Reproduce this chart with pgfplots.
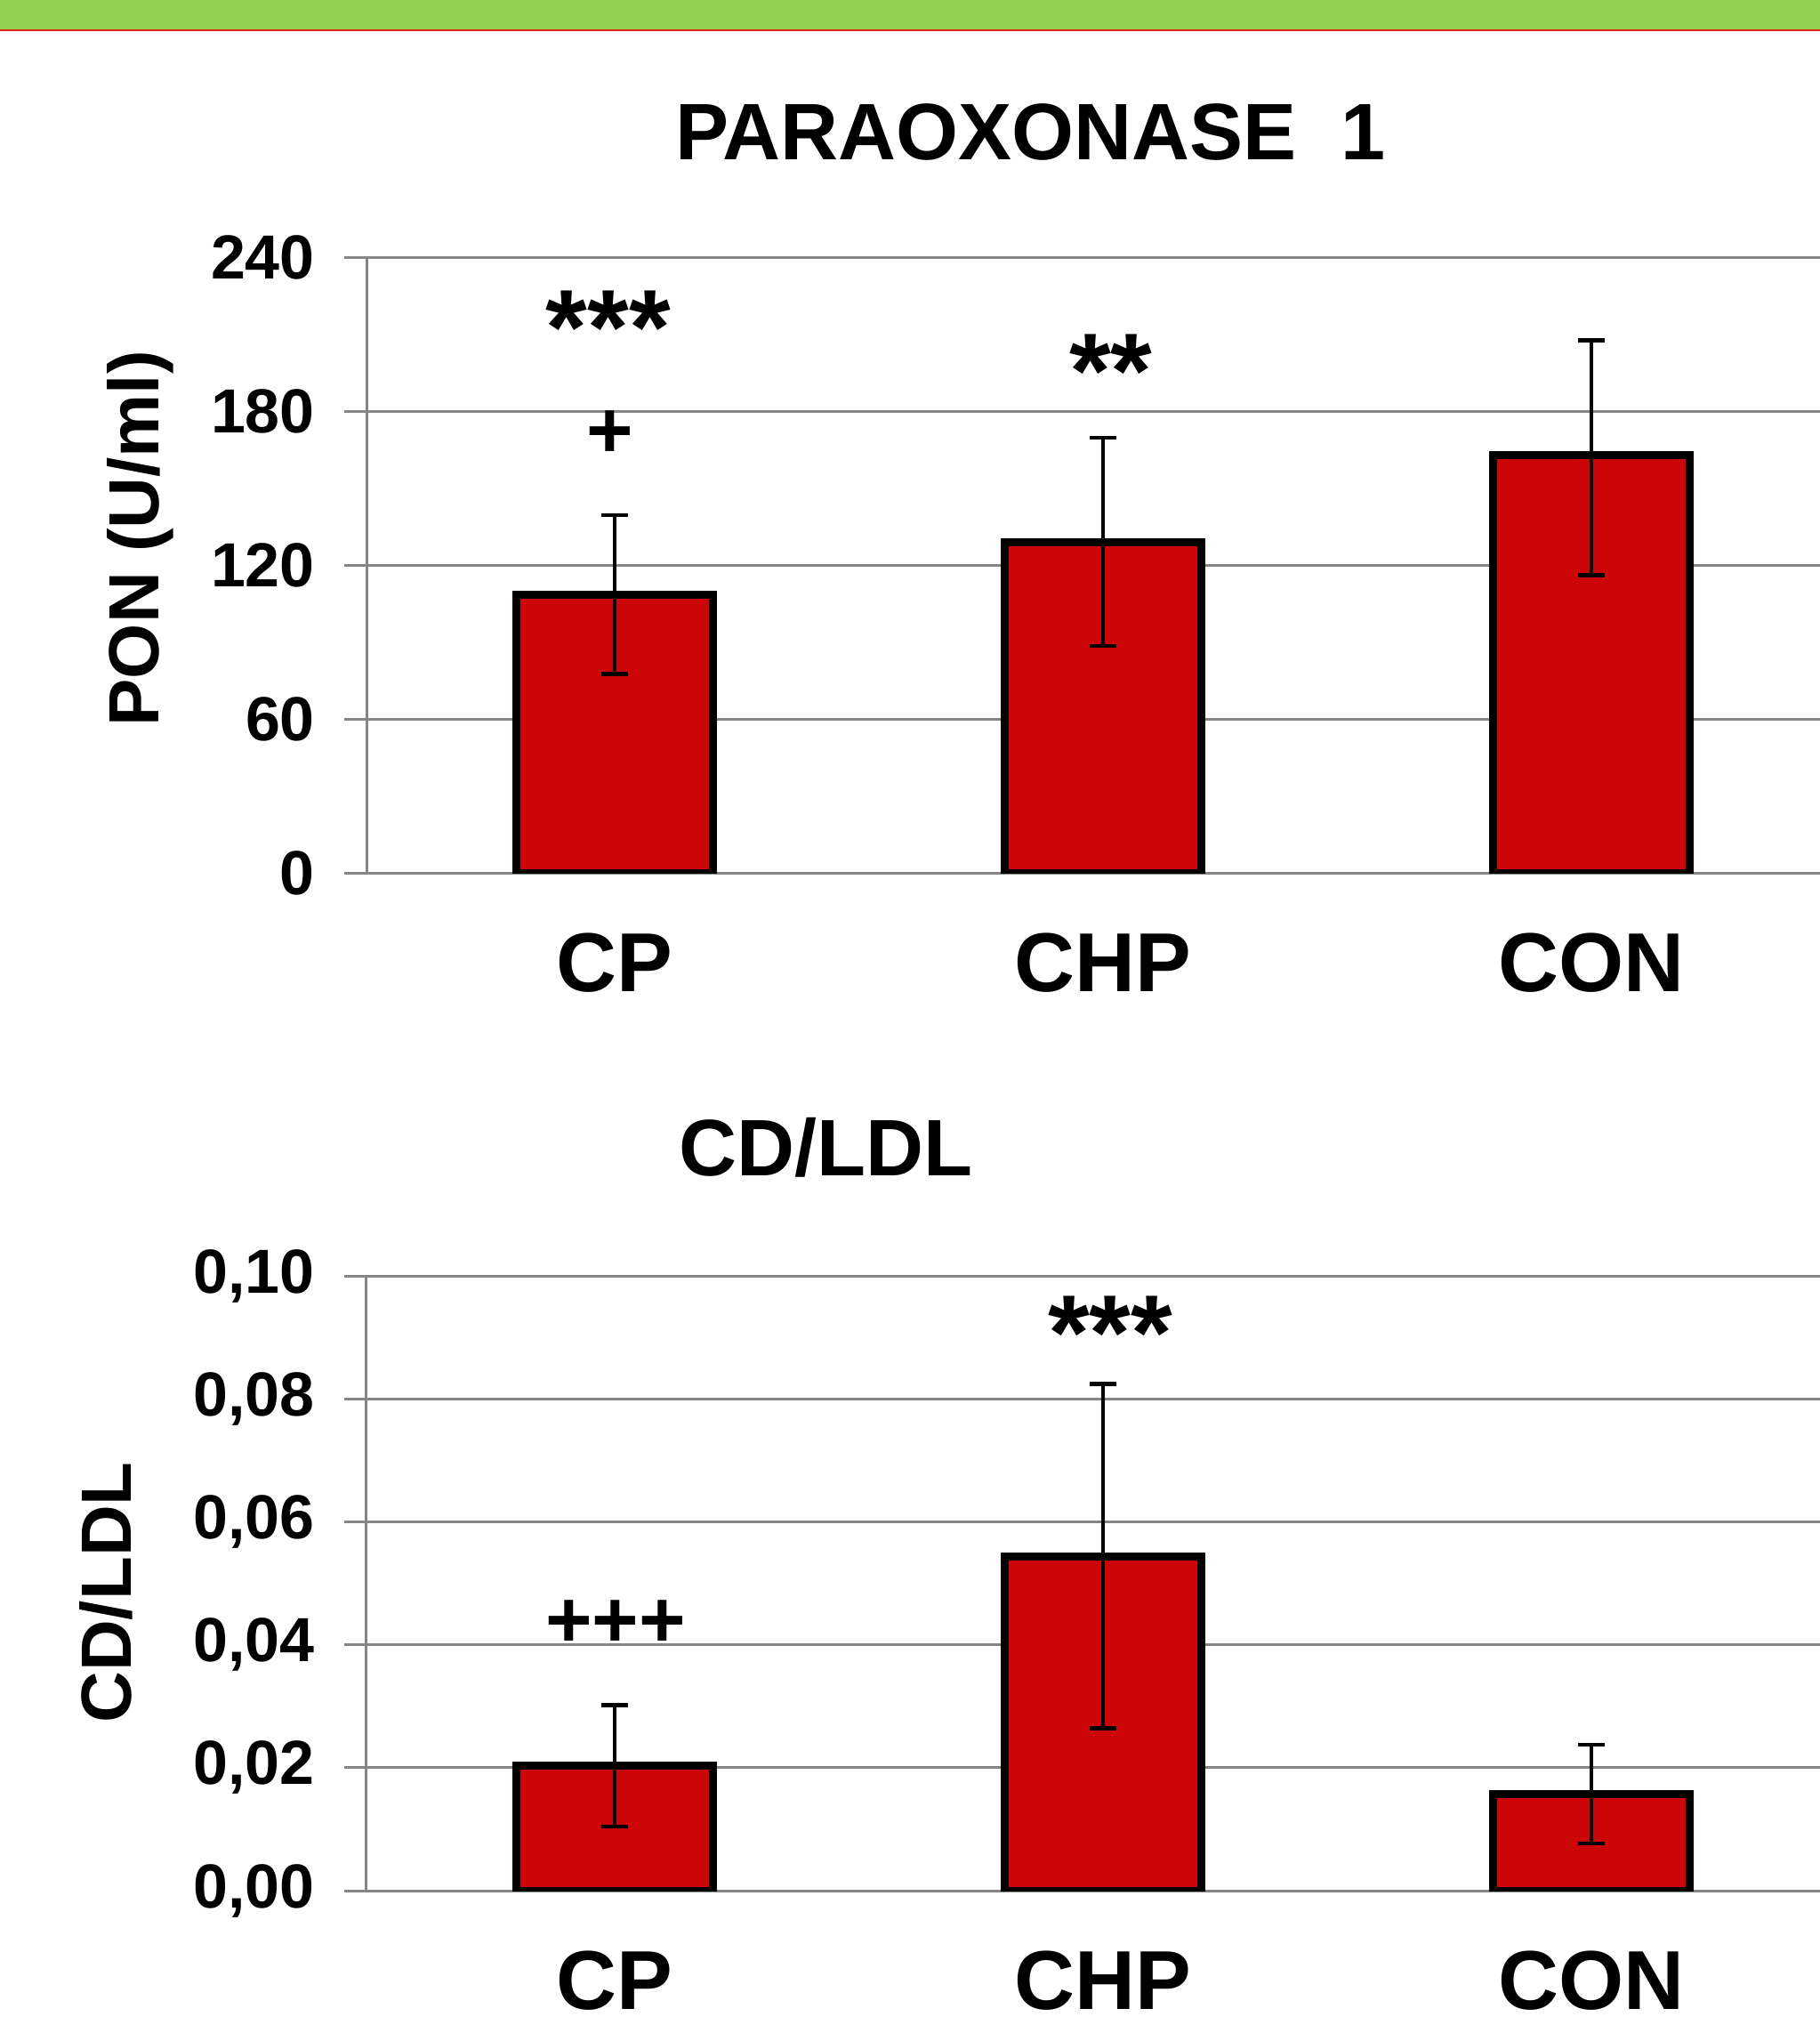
\documentclass[border=0pt]{standalone}
\usepackage{pgfplots}
\pgfplotsset{compat=1.18}
\usepackage{fontspec}
\setmainfont{Liberation Sans}
\definecolor{barred}{RGB}{204,6,6}
\definecolor{gridgray}{RGB}{134,134,134}
\definecolor{bandgreen}{RGB}{146,208,80}
\definecolor{bandred}{RGB}{225,35,25}
\newcommand\starfont{\fontsize{30}{34}\selectfont\bfseries}
\newcommand\plusfont{\fontsize{22.5}{27}\selectfont\bfseries}
\pgfplotsset{
  mybars/.style={
    scale only axis, width=408.5pt,
    xmin=-0.508, xmax=2.468,
    axis lines=left, axis line style={-, gridgray, line width=0.75pt},
    ymajorgrids, major grid style={gridgray, line width=0.75pt},
    tick align=outside, major tick length=6.25pt,
    ytick style={gridgray, line width=0.75pt}, xtick style={draw=none},
    xtick={0,1,2}, xticklabels={CP,CHP,CON},
    xticklabel style={anchor=base, yshift=-27pt, font=\fontsize{23.5}{28}\selectfont\bfseries},
    yticklabel style={xshift=-4.75pt, font=\fontsize{17.5}{21}\selectfont\bfseries},
    /pgf/number format/assume math mode=true,
    ybar, bar width=0.403, bar shift=0pt,
    every axis y label/.style={rotate=90, anchor=base, font=\fontsize{20}{24}\selectfont\bfseries},
    title style={anchor=base, yshift=0pt, font=\fontsize{22.5}{27}\selectfont\bfseries},
  },
  mybarplot/.style={
    fill=barred, draw=black, line width=2.25pt,
    error bars/.cd, y dir=both, y explicit,
    error bar style={line width=1.1pt, black},
    error mark options={rotate=90, line width=1.1pt, mark size=3.75pt, black},
  },
}
\begin{document}
\begin{tikzpicture}
\useasboundingbox (0,0) rectangle (511.5pt,-573.5pt);
\fill[bandgreen] (0,0) rectangle (511.5pt,-8.3pt);
\fill[bandred] (0,-8.3pt) rectangle (511.5pt,-8.85pt);

\begin{axis}[mybars,
  at={(103pt,-245.25pt)}, anchor=south west, height=173pt,
  ymin=0, ymax=240, ytick={0,60,120,180,240},
  ylabel={PON (U/ml)},
  ylabel style={at={(axis description cs:-0.1432,0.543)}},
  title={PARAOXONASE\ \ 1},
  title style={at={(axis description cs:0.457,1.1243)}},
]
\addplot[mybarplot] coordinates {
  (0,108.5) +- (0,31)
  (1,129) +- (0,40.6)
  (2,163) += (0,44.6) -= (0,47)
};
\node[anchor=base, font=\starfont] at (axis cs:-0.013,198.2) {***};
\node[anchor=base, font=\plusfont] at (axis cs:-0.01,161.8) {+};
\node[anchor=base, font=\starfont] at (axis cs:1.016,181.2) {**};
\end{axis}

\begin{axis}[mybars,
  at={(103pt,-531.25pt)}, anchor=south west, height=172.75pt,
  ymin=0, ymax=0.1, ytick={0,0.02,0.04,0.06,0.08,0.1},
  scaled y ticks=false,
  yticklabel style={/pgf/number format/.cd, fixed, fixed zerofill, precision=2, use comma},
  ylabel={CD/LDL},
  ylabel style={at={(axis description cs:-0.1616,0.485)}},
  title={CD/LDL},
  title style={at={(axis description cs:0.316,1.1286)}},
]
\addplot[mybarplot] coordinates {
  (0,0.0203) +- (0,0.0099)
  (1,0.0544) +- (0,0.028)
  (2,0.0157) +- (0,0.008)
};
\node[anchor=base, font=\starfont] at (axis cs:1.015,0.0847) {***};
\node[anchor=base, font=\plusfont] at (axis cs:0.002,0.0396) {+++};
\end{axis}
\end{tikzpicture}
\end{document}
